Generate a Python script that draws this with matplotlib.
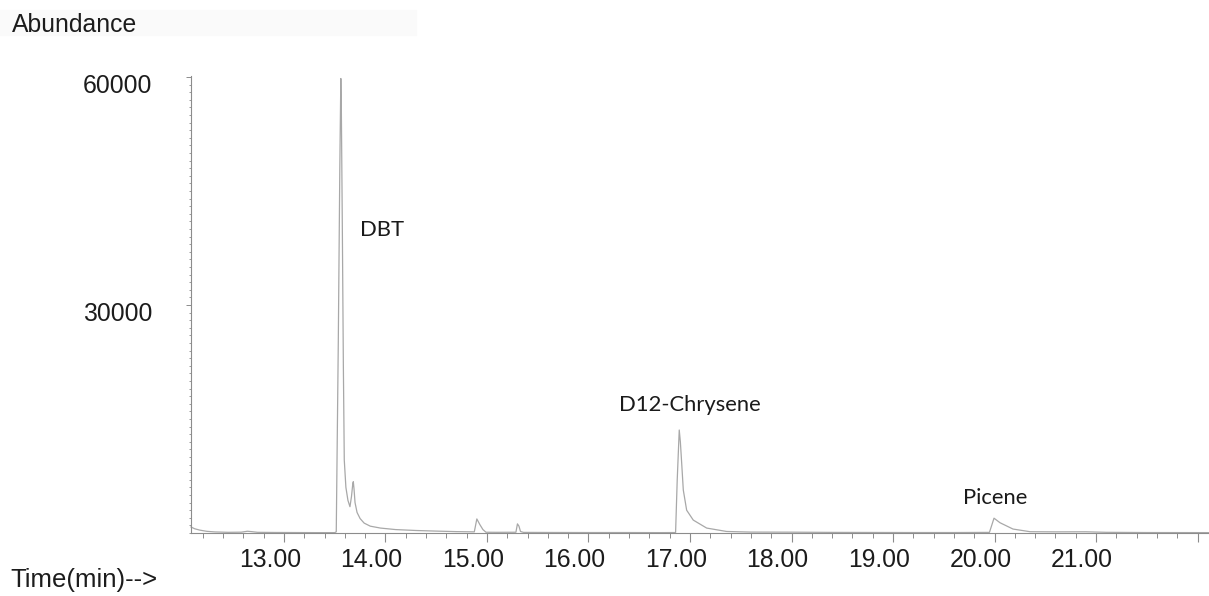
import matplotlib
matplotlib.use("Agg")
import matplotlib.pyplot as plt
import matplotlib.transforms as mtransforms
from matplotlib.patches import Rectangle
import numpy as np

# Total ion chromatogram trace (retention time in minutes, abundance in counts)
time_min = [
    12.084, 12.12, 12.17, 12.24, 12.32, 12.45, 12.58, 12.64, 12.68, 12.74,
    12.90, 13.10, 13.30, 13.50, 13.515, 13.535, 13.55, 13.56, 13.565, 13.575,
    13.585, 13.594, 13.61, 13.63, 13.65, 13.665, 13.678, 13.683, 13.69, 13.70,
    13.72, 13.75, 13.79, 13.85, 13.95, 14.10, 14.30, 14.50, 14.70, 14.875,
    14.90, 14.93, 14.96, 14.99, 15.10, 15.285, 15.30, 15.315, 15.33, 15.36,
    15.60, 16.00, 16.40, 16.70, 16.858, 16.874, 16.894, 16.905, 16.918, 16.934,
    16.967, 17.032, 17.164, 17.361, 17.60, 18.00, 18.40, 18.80, 19.20, 19.60,
    19.95, 19.995, 20.054, 20.182, 20.35, 20.60, 20.90, 21.10, 21.50, 22.11,
]
abundance = [
    790, 560, 380, 220, 140, 90, 110, 230, 180, 90,
    70, 60, 50, 50, 150, 25000, 48000, 59800, 56000, 40000,
    22000, 9600, 6000, 4300, 3460, 4800, 6500, 6750, 5800, 4000,
    2700, 1900, 1300, 900, 650, 450, 330, 250, 180, 150,
    1850, 1100, 450, 100, 90, 100, 1200, 900, 200, 80,
    70, 60, 60, 50, 60, 6950, 13550, 12000, 9200, 5650,
    3000, 1700, 650, 200, 120, 110, 80, 70, 60, 60,
    80, 1950, 1350, 520, 170, 150, 160, 90, 60, 50,
]

# Labelled compounds and the time window holding each peak
peak_names = ["DBT", "D12-Chrysene", "Picene"]
peak_windows = [(13.4, 13.8), (16.7, 17.2), (19.8, 20.3)]

# Axis ticks
x_major = [13, 14, 15, 16, 17, 18, 19, 20, 21, 22]
x_tick_labels = ["13.00", "14.00", "15.00", "16.00", "17.00",
                 "18.00", "19.00", "20.00", "21.00", ""]
y_major = [30000, 60000]
y_tick_labels = ["30000", "60000"]

W, H, DPI = 1209, 596, 100
fig = plt.figure(figsize=(W / DPI, H / DPI), dpi=DPI)
fig.patch.set_facecolor("white")

# faint header band behind the y-axis title
fig.patches.append(Rectangle((0, 1 - 35 / H), 416 / W, 25 / H,
                             transform=fig.transFigure, color="#fafafa",
                             zorder=0))

ax = fig.add_axes([191 / W, (H - 533) / H, (W - 191) / W, (533 - 76) / H])
ax.set_xlim(12.084, 22.113)
ax.set_ylim(0, 60130)

line_col = "#a8a8a8"
axis_col = "#8c8c8c"
ax.plot(time_min, abundance, color=line_col, lw=0.9, solid_joinstyle="round",
        clip_on=False)

for side in ("top", "right"):
    ax.spines[side].set_visible(False)
for side in ("left", "bottom"):
    ax.spines[side].set_color(axis_col)
    ax.spines[side].set_linewidth(0.8)

tick_font = dict(family=["Liberation Sans", "DejaVu Sans"], size=17.8)

ax.set_xticks(x_major)
ax.set_xticklabels(x_tick_labels, color="#1c1c1c", **tick_font)
ax.set_xticks(np.arange(12.2, 22.11, 0.2), minor=True)
ax.tick_params(axis="x", which="major", length=6.5, width=0.8,
               color=axis_col, pad=4.0, direction="out")
ax.tick_params(axis="x", which="minor", length=3.6, width=0.7,
               color=axis_col, direction="out")

ax.set_yticks(y_major)
ax.set_yticklabels(y_tick_labels, color="#1c1c1c", **tick_font)
ax.set_yticks(np.arange(0, 60001, 1000), minor=True)
ax.tick_params(axis="y", which="major", length=3.6, width=0.7,
               color=axis_col, pad=24.5, direction="out")
ax.tick_params(axis="y", which="minor", length=1.8, width=0.6,
               color=axis_col, direction="out")

# Tick labels sit slightly off their tick marks
x_shift = mtransforms.ScaledTranslation(-14 / DPI, 0, fig.dpi_scale_trans)
for lab in ax.get_xticklabels():
    lab.set_transform(lab.get_transform() + x_shift)
y_shift = mtransforms.ScaledTranslation(0, -7 / DPI, fig.dpi_scale_trans)
for lab in ax.get_yticklabels():
    lab.set_transform(lab.get_transform() + y_shift)

# Compound labels above their peaks
t_arr = np.asarray(time_min)
a_arr = np.asarray(abundance)
label_offsets = [(41, -151), (11, 25), (1, 20)]
for name, (lo, hi), (dx, dy) in zip(peak_names, peak_windows, label_offsets):
    sel = (t_arr >= lo) & (t_arr <= hi)
    i = np.argmax(np.where(sel, a_arr, -1))
    ax.annotate(name, xy=(t_arr[i], a_arr[i]), xytext=(dx, dy),
                textcoords="offset pixels", ha="center", va="center",
                fontsize=15.8, family=["Lato", "DejaVu Sans"], color="#1a1a1a")

fig.text(12 / W, 1 - 25 / H, "Abundance", ha="left", va="center",
         color="#1c1c1c", **tick_font)
fig.text(10 / W, 1 - 580 / H, "Time(min)-->", ha="left", va="center",
         color="#1c1c1c", family=["Liberation Sans", "DejaVu Sans"],
         size=18.5)

fig.savefig("out.png", dpi=DPI, facecolor="white")
